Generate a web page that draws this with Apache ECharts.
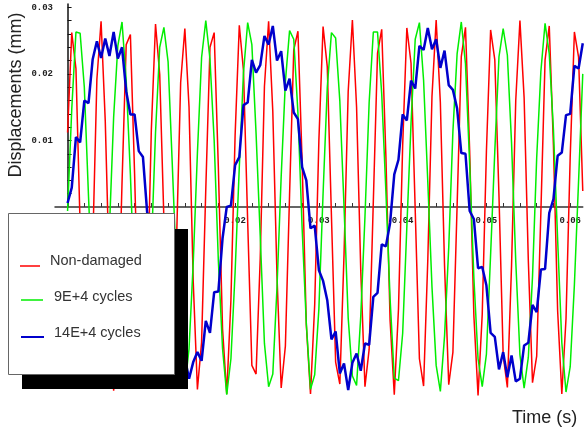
<!DOCTYPE html>
<html><head><meta charset="utf-8">
<script src="https://cdn.jsdelivr.net/npm/echarts@6/dist/echarts.min.js"></script>
<style>html,body{margin:0;padding:0;background:#fff}#c{width:584px;height:432px}</style>
</head><body><div id="c"></div><script>
// time between samples (s)
const sampleStep = 0.0005;
// Displacements (mm), one value per sample
const nonDamaged = [0.0112,0.0262,0.0208,-0.0029,-0.0247,-0.0243,-0.0060,0.0192,0.0279,0.0129,
-0.0108,-0.0276,-0.0198,0.0036,0.0244,0.0259,0.0050,-0.0190,-0.0268,-0.0146,
0.0116,0.0275,0.0199,-0.0019,-0.0243,-0.0261,-0.0055,0.0187,0.0268,0.0150,
-0.0112,-0.0274,-0.0203,0.0027,0.0240,0.0262,0.0059,-0.0183,-0.0281,-0.0140,
0.0108,0.0273,0.0205,-0.0022,-0.0238,-0.0251,-0.0077,0.0181,0.0279,0.0143,
-0.0104,-0.0272,-0.0209,0.0018,0.0236,0.0264,0.0068,-0.0177,-0.0281,-0.0147,
0.0100,0.0271,0.0211,-0.0014,-0.0233,-0.0266,-0.0072,0.0174,0.0281,0.0150,
-0.0096,-0.0270,-0.0214,0.0009,0.0231,0.0267,0.0076,-0.0170,-0.0282,-0.0154,
0.0092,0.0269,0.0216,-0.0005,-0.0228,-0.0269,-0.0080,0.0166,0.0281,0.0157,
-0.0088,-0.0267,-0.0218,0.0002,0.0226,0.0270,0.0084,-0.0163,-0.0283,-0.0161,
0.0084,0.0266,0.0221,0.0016,-0.0223,-0.0271,-0.0088,0.0160,0.0280,0.0164,
-0.0080,-0.0264,-0.0224,-0.0008,0.0221,0.0272,0.0092,-0.0156,-0.0281,-0.0168,
0.0075,0.0263,0.0225,0.0024];
const cycles9E4 = [-0.0006,0.0147,0.0263,0.0261,0.0180,0.0016,-0.0136,-0.0246,-0.0272,-0.0192,
-0.0032,0.0135,0.0242,0.0278,0.0190,0.0049,-0.0126,-0.0237,-0.0267,-0.0207,
-0.0063,0.0112,0.0240,0.0270,0.0218,0.0064,-0.0096,-0.0236,-0.0271,-0.0213,
-0.0084,0.0081,0.0225,0.0280,0.0222,0.0100,-0.0081,-0.0213,-0.0282,-0.0228,
-0.0098,0.0060,0.0202,0.0277,0.0244,0.0111,-0.0044,-0.0205,-0.0270,-0.0251,
-0.0121,0.0046,0.0188,0.0265,0.0252,0.0141,-0.0032,-0.0175,-0.0274,-0.0252,
-0.0153,0.0020,0.0179,0.0262,0.0254,0.0159,0.0001,-0.0167,-0.0254,-0.0268,
-0.0164,-0.0015,0.0157,0.0263,0.0263,0.0170,0.0023,-0.0138,-0.0257,-0.0261,
-0.0190,-0.0030,0.0126,0.0252,0.0277,0.0190,0.0038,-0.0120,-0.0238,-0.0277,
-0.0194,-0.0061,0.0114,0.0230,0.0278,0.0215,0.0064,-0.0106,-0.0228,-0.0270,
-0.0221,-0.0071,0.0084,0.0226,0.0268,0.0228,0.0096,-0.0081,-0.0222,-0.0272,
-0.0226,-0.0105,0.0074,0.0204,0.0276,0.0230,0.0116,-0.0049,-0.0204,-0.0278,
-0.0240,-0.0117,0.0039,0.0200];
const cycles14E4 = [0.0006,0.0029,0.0105,0.0097,0.0160,0.0156,0.0222,0.0249,0.0224,0.0253,
0.0227,0.0263,0.0223,0.0240,0.0174,0.0139,0.0139,0.0084,0.0075,-0.0008,
-0.0020,-0.0098,-0.0092,-0.0147,-0.0153,-0.0214,-0.0215,-0.0262,-0.0227,-0.0258,
-0.0233,-0.0218,-0.0231,-0.0171,-0.0189,-0.0128,-0.0127,-0.0047,0.0000,0.0002,
0.0063,0.0075,0.0153,0.0157,0.0221,0.0202,0.0213,0.0257,0.0244,0.0272,
0.0220,0.0234,0.0175,0.0193,0.0142,0.0132,0.0060,0.0040,-0.0032,-0.0028,
-0.0095,-0.0111,-0.0140,-0.0199,-0.0187,-0.0250,-0.0235,-0.0275,-0.0234,-0.0220,
-0.0246,-0.0205,-0.0207,-0.0135,-0.0129,-0.0056,-0.0059,-0.0024,0.0049,0.0071,
0.0139,0.0130,0.0190,0.0178,0.0242,0.0236,0.0269,0.0237,0.0252,0.0209,
0.0235,0.0183,0.0176,0.0148,0.0081,0.0080,-0.0006,-0.0018,-0.0092,-0.0090,
-0.0118,-0.0189,-0.0195,-0.0244,-0.0218,-0.0256,-0.0223,-0.0262,-0.0258,-0.0208,
-0.0204,-0.0147,-0.0158,-0.0094,-0.0093,-0.0009,0.0012,0.0077,0.0082,0.0138,
0.0140,0.0212,0.0208,0.0246];
const seriesNames = ['Non-damaged', '9E+4 cycles', '14E+4 cycles'];
const xTickValues = [0,0.002,0.004,0.006,0.008,0.01,0.012,0.014,0.016,0.018,0.02,0.022,0.024,0.026,0.028,0.03,0.032,0.034,0.036,0.038,0.04,0.042,0.044,0.046,0.048,0.05,0.052,0.054,0.056,0.058,0.06];
const xLabelValues = [0.01,0.02,0.03,0.04,0.05,0.06];
const yTickValues = [0.002,0.004,0.006,0.008,0.01,0.012,0.014,0.016,0.018,0.02,0.022,0.024,0.026,0.028,0.03];
const yLabelValues = [0.01,0.02,0.03];

const toPairs = arr => arr.map((v, i) => [+(i * sampleStep).toFixed(5), v]);
const colors = ['#ff0000', '#00ee00', '#0000cc'];
const widths = [1.5, 1.5, 2.5];
const dataSets = [nonDamaged, cycles9E4, cycles14E4];

const chart = echarts.init(document.getElementById('c'), null, {renderer: 'canvas'});
const labelStyle = {color: '#222', fontFamily: 'Liberation Mono', fontWeight: 'bold', fontSize: 9,
  formatter: v => (+v).toFixed(2)};
const legendEls = [];
const legendY = [266, 300, 337];
const textY = [261, 297, 333];
const lineX = [[20, 40], [21, 43], [21, 44]];
const textX = [50, 54, 54];
seriesNames.forEach((n, i) => {
  legendEls.push({type: 'line', z: 102, shape: {x1: lineX[i][0], y1: legendY[i], x2: lineX[i][1], y2: legendY[i]},
    style: {stroke: colors[i], lineWidth: Math.min(widths[i], 2)}});
  legendEls.push({type: 'text', z: 102, x: textX[i], y: textY[i],
    style: {text: n, fill: '#333', font: '14.5px "Liberation Sans", Arial, sans-serif', textVerticalAlign: 'middle', textAlign: 'left'}});
});

chart.setOption({
  animation: false,
  backgroundColor: '#fff',
  grid: {left: 55, right: 0, top: 4, bottom: 225, containLabel: false},
  xAxis: {
    type: 'value', min: -0.0015, max: 0.0615,
    axisLine: {show: true, onZero: true, lineStyle: {color: '#333', width: 1.5}},
    axisTick: {show: true, inside: true, length: 4, customValues: xTickValues, lineStyle: {color: '#333', width: 1}},
    axisLabel: Object.assign({margin: 9, customValues: xLabelValues}, labelStyle),
    splitLine: {show: false}
  },
  yAxis: {
    type: 'value', min: 0, max: 0.0305,
    axisLine: {show: true, onZero: true, lineStyle: {color: '#111', width: 1.5}},
    axisTick: {show: true, inside: true, length: 4, customValues: yTickValues, lineStyle: {color: '#111', width: 1}},
    axisLabel: Object.assign({margin: 2, customValues: yLabelValues}, labelStyle),
    splitLine: {show: false}
  },
  series: dataSets.map((d, i) => ({
    name: seriesNames[i], type: 'line', data: toPairs(d), showSymbol: false, symbol: 'none',
    clip: false, z: 2 + i,
    lineStyle: {color: colors[i], width: widths[i]}
  })),
  graphic: [
    {type: 'text', z: 100, x: 16, y: 95, rotation: Math.PI / 2,
      style: {text: 'Displacements (mm)', fill: '#222', font: '18px "Liberation Sans", Arial, sans-serif', textAlign: 'center', textVerticalAlign: 'middle'}},
    {type: 'text', z: 100, x: 512, y: 418,
      style: {text: 'Time (s)', fill: '#222', font: '18px "Liberation Sans", Arial, sans-serif', textAlign: 'left', textVerticalAlign: 'middle'}},
    {type: 'rect', z: 100, shape: {x: 22, y: 229, width: 166, height: 160}, style: {fill: '#000'}},
    {type: 'rect', z: 101, shape: {x: 8.5, y: 213.5, width: 166, height: 161}, style: {fill: '#fff', stroke: '#666', lineWidth: 1}}
  ].concat(legendEls)
});
</script></body></html>
